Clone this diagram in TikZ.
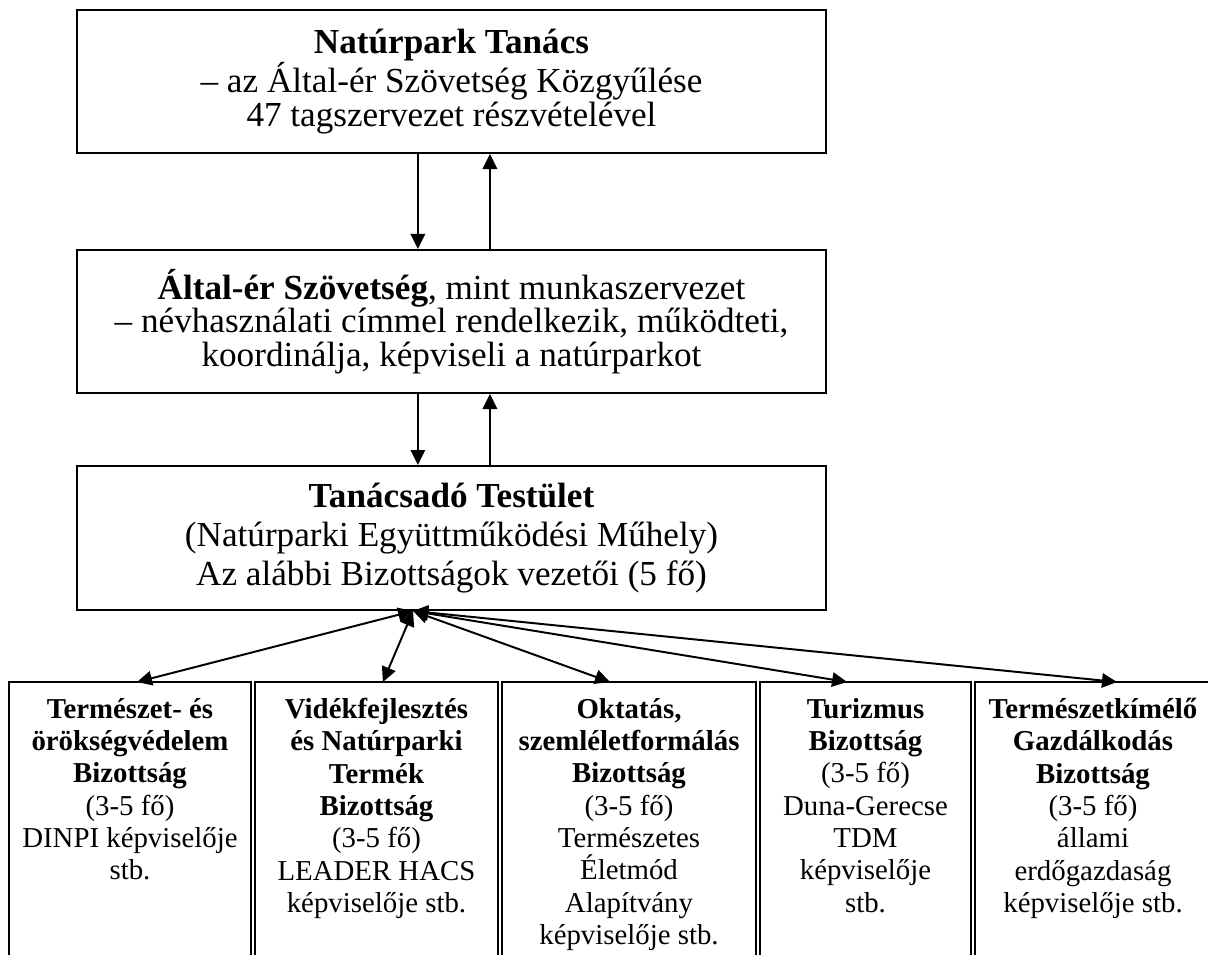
\documentclass[tikz,border=0pt]{standalone}
\usepackage{fontspec}
\setmainfont{Liberation Serif}
\usetikzlibrary{arrows.meta}

\begin{document}
\begin{tikzpicture}[x=0.025cm,y=-0.025cm,line width=1.4pt,
  >={Triangle[length=0.375cm,width=0.36cm]},
  nagydoboz/.style={draw,minimum width=18.725cm,minimum height=3.575cm,align=center,
    font=\fontsize{25}{24}\selectfont},
  bizottsag/.style={anchor=north,align=center,inner xsep=0pt,inner ysep=0.38cm,
    font=\fontsize{20.5}{23}\selectfont}]
  \clip (0,0) rectangle (1208,954);
  \node[nagydoboz] (tanacs) at (451.5,81.5)
    {\textbf{Natúrpark Tanács}\\ – az Által-ér Szövetség Közgyűlése\\ 47 tagszervezet részvételével};
  \node[nagydoboz] (szovetseg) at (451.5,321.5)
    {\textbf{Által-ér Szövetség}, mint munkaszervezet\\ – névhasználati címmel rendelkezik, működteti,\\ koordinálja, képviseli a natúrparkot};
  \node[nagydoboz,minimum height=3.6cm,font=\fontsize{25}{28}\selectfont] (testulet) at (451.5,538)
    {\textbf{Tanácsadó Testület}\\ (Natúrparki Együttműködési Műhely)\\ Az alábbi Bizottságok vezetői (5 fő)};
  \node[bizottsag,minimum width=6cm] (termeszet) at (130,682)
    {\textbf{Természet- és}\\ \textbf{örökségvédelem}\\ \textbf{Bizottság}\\ (3-5 fő)\\ DINPI képviselője\\ stb.};
  \node[bizottsag,minimum width=6.025cm] (videk) at (376.5,682)
    {\textbf{Vidékfejlesztés}\\ \textbf{és Natúrparki}\\ \textbf{Termék}\\ \textbf{Bizottság}\\ (3-5 fő)\\ LEADER HACS\\ képviselője stb.};
  \node[bizottsag,minimum width=6.3cm] (oktatas) at (629,682)
    {\textbf{Oktatás,}\\ \textbf{szemléletformálás}\\ \textbf{Bizottság}\\ (3-5 fő)\\ Természetes\\ Életmód\\ Alapítvány\\ képviselője stb.};
  \node[bizottsag,minimum width=5.225cm] (turizmus) at (865.5,682)
    {\textbf{Turizmus}\\ \textbf{Bizottság}\\ (3-5 fő)\\ Duna-Gerecse\\ TDM\\ képviselője\\ stb.};
  \node[bizottsag,minimum width=5.85cm] (gazdalkodas) at (1093,682)
    {\textbf{Természetkímélő}\\ \textbf{Gazdálkodás}\\ \textbf{Bizottság}\\ (3-5 fő)\\ állami\\ erdőgazdaság\\ képviselője stb.};
  \foreach \n in {termeszet,videk,oktatas,turizmus,gazdalkodas}
    \draw ([yshift=-10cm]\n.north west) -- (\n.north west) -- (\n.north east) -- ([yshift=-10cm]\n.north east);

  \draw[->] ([xshift=-0.84cm]tanacs.south) -- ([xshift=-0.84cm]szovetseg.north);
  \draw[->] ([xshift=0.96cm]szovetseg.north) -- ([xshift=0.96cm]tanacs.south);
  \draw[->] ([xshift=-0.84cm]szovetseg.south) -- ([xshift=-0.84cm]testulet.north);
  \draw[->] ([xshift=0.96cm]testulet.north) -- ([xshift=0.96cm]szovetseg.south);

  \coordinate (kozpont) at ([xshift=-0.96cm]testulet.south);
  \draw[<->] (kozpont) -- ([xshift=0.175cm]termeszet.north);
  \draw[<->] (kozpont) -- ([xshift=0.16cm]videk.north);
  \draw[<->] (kozpont) -- ([xshift=-0.475cm]oktatas.north);
  \draw[<->] (kozpont) -- ([xshift=-0.46cm]turizmus.north);
  \draw[<->] (kozpont) -- ([xshift=0.6cm]gazdalkodas.north);
\end{tikzpicture}
\end{document}
